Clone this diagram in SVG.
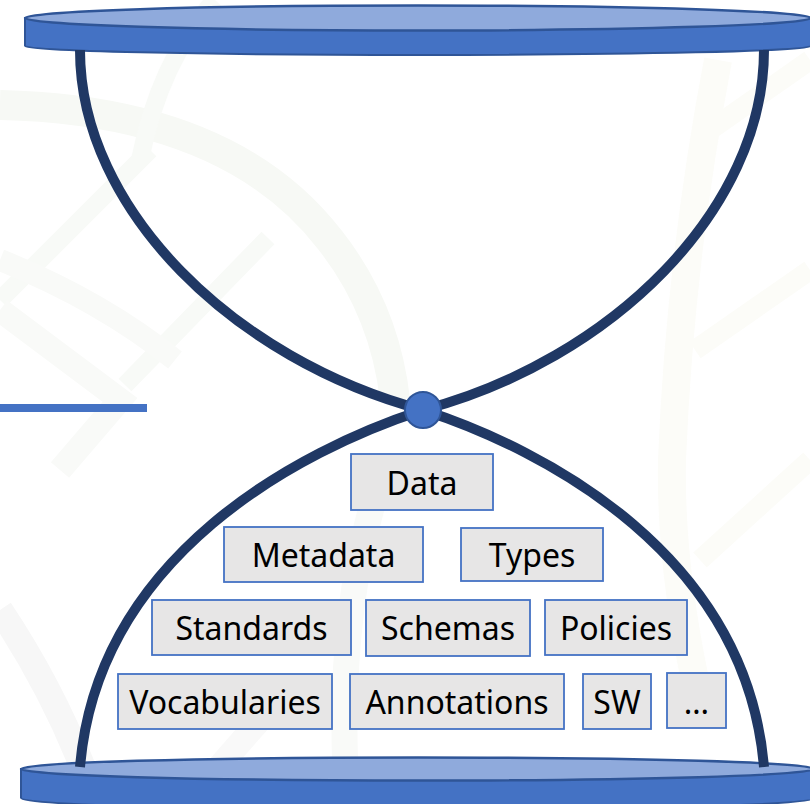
<svg xmlns="http://www.w3.org/2000/svg" width="810" height="804" viewBox="0 0 810 804">
  <style>
    .bg { fill: none; stroke-linecap: butt; }
    .leg { fill: none; stroke: #203864; stroke-width: 10; stroke-linecap: butt; }
    .disc-side { fill: #4472C4; stroke: #2F5597; stroke-width: 2; }
    .disc-top { fill: #8FAADC; stroke: #2F5597; stroke-width: 2.5; }
    .box { fill: #E7E6E6; stroke: #4472C4; stroke-width: 1.8; }
    .lbl { font-family: "Noto Sans", "Liberation Sans", sans-serif; font-size: 32px; fill: #000; text-anchor: middle; }
  </style>
  <rect width="810" height="804" fill="#ffffff"/>

  <!-- faint background watermark -->
  <g id="watermark">
    <path class="bg" d="M0,105 Q230,110 330,240 Q385,310 395,400" stroke="#F7F9F5" stroke-width="30"/>
    <path class="bg" d="M150,150 L0,300" stroke="#F8FAF7" stroke-width="18"/>
    <path class="bg" d="M268,238 L125,385" stroke="#F8FAF7" stroke-width="18"/>
    <path class="bg" d="M0,310 L120,400 L60,470" stroke="#F9FAF8" stroke-width="24"/>
    <path class="bg" d="M0,260 Q100,300 175,360" stroke="#F9FAF8" stroke-width="22"/>
    <path class="bg" d="M215,0 Q160,60 140,160" stroke="#F8FAF7" stroke-width="18"/>
    <path class="bg" d="M718,60 Q680,260 672,460 Q670,560 695,680" stroke="#FCFCF8" stroke-width="28"/>
    <path class="bg" d="M710,130 L810,60" stroke="#FCFCF8" stroke-width="20"/>
    <path class="bg" d="M695,350 L810,270" stroke="#FCFCF8" stroke-width="20"/>
    <path class="bg" d="M700,560 L810,460" stroke="#FCFCF8" stroke-width="20"/>
    <path class="bg" d="M0,610 Q60,700 95,800" stroke="#F7F7F7" stroke-width="26"/>
    <path class="bg" d="M190,800 L260,720" stroke="#F9F9F9" stroke-width="24"/>
    <path class="bg" d="M380,480 Q340,600 345,760" stroke="#F9FAF8" stroke-width="26"/>
  </g>

  <!-- left blue bar -->
  <rect id="bar" x="0" y="404" width="147" height="8" fill="#4472C4"/>

  <!-- top disc -->
  <g id="top-disc">
    <path class="disc-side" d="M25,18 L25,46 A393,9 0 0 0 811,46 L811,18 Z"/>
    <ellipse class="disc-top" cx="418" cy="18" rx="393" ry="12.5"/>
  </g>

  <!-- bottom disc -->
  <g id="bottom-disc">
    <path class="disc-side" d="M21,769 L21,798 A397,12 0 0 0 815,798 L815,769 Z"/>
    <ellipse class="disc-top" cx="418" cy="769" rx="397" ry="11.5"/>
  </g>

  <!-- connectors: hourglass curves -->
  <g id="connectors">
    <path class="leg" d="M80,50 C80,210 235,360 423,410"/>
    <path class="leg" d="M764,50 C764,210 611,360 423,410"/>
    <path class="leg" d="M423,410 C300,450 98,555 80,767"/>
    <path class="leg" d="M423,410 C546,450 746,555 764,767"/>
  </g>

  <!-- center knot -->
  <g id="knot">
    <circle cx="423" cy="410" r="18" fill="#4472C4" stroke="#2F5597" stroke-width="2"/>
  </g>

  <!-- boxes -->
  <g id="node-data"><rect class="box" x="351" y="454" width="142" height="56"/><text class="lbl" x="422" y="495">Data</text></g>
  <g id="node-metadata"><rect class="box" x="224" y="527" width="199" height="55"/><text class="lbl" x="323.5" y="567">Metadata</text></g>
  <g id="node-types"><rect class="box" x="461" y="528" width="142" height="53"/><text class="lbl" x="532" y="567">Types</text></g>
  <g id="node-standards"><rect class="box" x="152" y="600" width="199" height="55"/><text class="lbl" x="251.5" y="640">Standards</text></g>
  <g id="node-schemas"><rect class="box" x="366" y="600" width="164" height="56"/><text class="lbl" x="448" y="640">Schemas</text></g>
  <g id="node-policies"><rect class="box" x="545" y="600" width="142" height="55"/><text class="lbl" x="616" y="640">Policies</text></g>
  <g id="node-vocabularies"><rect class="box" x="118" y="674" width="214" height="55"/><text class="lbl" x="225" y="714">Vocabularies</text></g>
  <g id="node-annotations"><rect class="box" x="350" y="674" width="214" height="55"/><text class="lbl" x="457" y="714">Annotations</text></g>
  <g id="node-sw"><rect class="box" x="583" y="674" width="68" height="55"/><text class="lbl" x="617" y="714">SW</text></g>
  <g id="node-more"><rect class="box" x="667" y="673" width="59" height="55"/><text class="lbl" x="696.5" y="714">…</text></g>
</svg>
